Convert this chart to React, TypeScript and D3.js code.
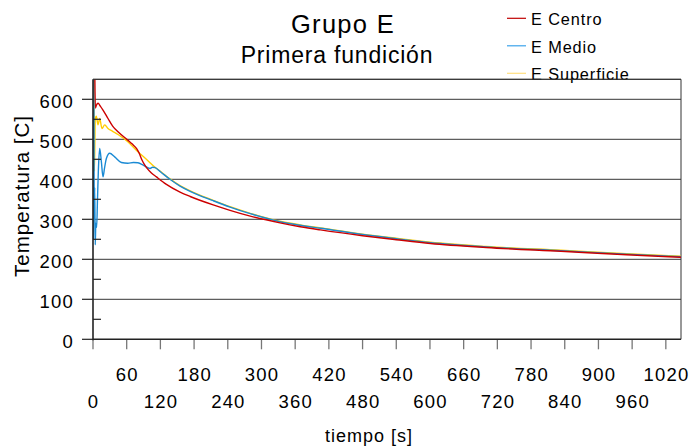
import React from "react";
import * as d3 from "d3";

const title = "Grupo E";
const subtitle = "Primera fundición";
const xTitle = "tiempo [s]";
const yTitle = "Temperatura [C]";
const seriesNames = ["E Centro", "E Medio", "E Superficie"];
const seriesColors = ["#cc0000", "#1a8ad4", "#ffcc00"];
const legendColors = ["#c00000", "#3aa2ea", "#ffdf80"];

const xTicks = d3.range(0, 1021, 60);
const yTicks = [0, 100, 200, 300, 400, 500, 600];
const yMinorTicks = [50, 150, 250, 350, 450, 550];

const centroT = [3, 4.2, 6, 9, 13, 17.8, 26.7, 35, 44.5, 62, 70, 78, 82, 87, 92, 96, 104, 113, 130, 155, 173, 214, 244, 280, 333, 369, 405, 480, 540, 601, 700, 833, 950, 1047];
const centroV = [700, 578, 585, 590, 583, 573, 552, 533, 519, 498, 488, 476, 466, 449, 436, 428, 416, 406, 388, 368, 357, 336, 322.5, 308, 291, 281.5, 273.5, 259, 249, 239.5, 229.5, 220, 211.5, 205];

const medioT = [0.8, 1.5, 2.2, 3, 4, 5, 6.5, 8, 9.5, 11.9, 14.9, 17.8, 20.5, 23.8, 29.7, 38.6, 50.5, 62, 72, 80, 90, 101.6, 106, 110.5, 120, 137, 155, 173, 214, 244, 280, 333, 369, 405, 480, 540, 601, 700, 833, 950, 1047];
const medioV = [250, 700, 300, 380, 236, 290, 280, 350, 420, 477, 444, 406, 428, 452, 465, 456, 442, 440, 442, 441.5, 435, 427, 430, 429, 419, 400, 383, 370, 346.5, 330.5, 314, 294, 285, 277.5, 262, 251.5, 241.5, 231, 221.5, 213, 206.5];

const superficieT = [1.5, 2.5, 4, 5.9, 8.9, 11.9, 16, 20.8, 26.7, 35, 44.5, 62, 80, 95, 110.5, 120, 137, 155, 173, 214, 244, 280, 333, 369, 405, 480, 540, 601, 700, 833, 950, 1047];
const superficieV = [700, 420, 550, 558, 536, 552, 527, 536, 527, 520, 512, 494, 469, 450, 430, 420, 401, 384, 371, 347.5, 331.5, 315, 295, 286, 278.5, 263, 252.5, 242.5, 232, 222.5, 214, 207.5];

const FONT = "'Liberation Sans', Arial, sans-serif";

export default function App() {
  const W = 690, H = 447;
  const left = 93, right = 681, top = 79.3, bottom = 339.3;
  const x = d3.scaleLinear().domain([0, 1047]).range([left, right]);
  const y = d3.scaleLinear().domain([0, 650]).range([bottom, top]);

  const series = [
    { t: superficieT, v: superficieV, c: seriesColors[2] },
    { t: medioT, v: medioV, c: seriesColors[1] },
    { t: centroT, v: centroV, c: seriesColors[0] },
  ];
  const line = d3
    .line<[number, number]>()
    .x((d) => x(d[0]))
    .y((d) => y(d[1]))
    .curve(d3.curveMonotoneX);

  return (
    <svg width={W} height={H} style={{ position: "absolute", left: 0, top: 0, background: "#fff" }} fontFamily={FONT}>
      <defs>
        <clipPath id="plotClip">
          <rect x={left} y={top} width={right - left} height={bottom - top} />
        </clipPath>
      </defs>
      <rect x={0} y={0} width={W} height={H} fill="#fff" />
      {yTicks.filter((d) => d > 0).map((d) => (
        <line key={"g" + d} x1={left} x2={right} y1={y(d)} y2={y(d)} stroke="#5e5e5e" strokeWidth={1.2} />
      ))}
      <line x1={left} x2={right} y1={top} y2={top} stroke="#333" strokeWidth={1} />
      <line x1={right} x2={right} y1={top} y2={bottom} stroke="#333" strokeWidth={1} />
      <g clipPath="url(#plotClip)">
        {series.map((s, i) => (
          <path
            key={i}
            d={line(s.t.map((t, j) => [t, s.v[j]] as [number, number])) || ""}
            fill="none"
            stroke={s.c}
            strokeWidth={1.4}
            strokeLinejoin="round"
          />
        ))}
      </g>
      {xTicks.map((d) => (
        <line key={"xt" + d} x1={x(d)} x2={x(d)} y1={bottom} y2={bottom + 10} stroke="#777" strokeWidth={1.3} />
      ))}
      {yTicks.map((d) => (
        <line key={"yt" + d} x1={left - 11} x2={left} y1={y(d)} y2={y(d)} stroke="#222" strokeWidth={1.2} />
      ))}
      {yMinorTicks.map((d) => (
        <line key={"ym" + d} x1={left} x2={left + 8} y1={y(d)} y2={y(d)} stroke="#222" strokeWidth={1.2} />
      ))}
      <line x1={left} x2={left} y1={top} y2={bottom + 1} stroke="#222" strokeWidth={1.6} />
      <line x1={left} x2={right} y1={bottom} y2={bottom} stroke="#222" strokeWidth={1.6} />
      {yTicks.map((d) => (
        <text key={"yl" + d} x={74} y={y(d) + 9} textAnchor="end" fontSize={18.5} letterSpacing={1.2} fill="#000">
          {d}
        </text>
      ))}
      {xTicks.map((d, i) => (
        <text
          key={"xl" + d}
          x={x(d) + 0.6}
          y={i % 2 === 1 ? 380.7 : 408.3}
          textAnchor="middle"
          fontSize={18.5}
          letterSpacing={1.2}
          fill="#000"
        >
          {d}
        </text>
      ))}
      <text x={343} y={33.3} textAnchor="middle" fontSize={25.5} letterSpacing={1.3} fill="#000">
        {title}
      </text>
      <text x={337} y={63.3} textAnchor="middle" fontSize={23} letterSpacing={0.8} fill="#000">
        {subtitle}
      </text>
      <text x={369} y={441.7} textAnchor="middle" fontSize={18} letterSpacing={1} fill="#000">
        {xTitle}
      </text>
      <text transform="translate(28.5,196) rotate(-90)" textAnchor="middle" fontSize={20.5} letterSpacing={1} fill="#000">
        {yTitle}
      </text>
      {seriesNames.map((n, i) => {
        const ly = 18.3 + i * 27.5;
        return (
          <g key={n}>
            <line x1={507} x2={526} y1={ly} y2={ly} stroke={legendColors[i]} strokeWidth={1.2} />
            <text x={531} y={ly + 6.7} fontSize={16.3} letterSpacing={0.9} fill="#000">
              {n}
            </text>
          </g>
        );
      })}
      <line x1={left} x2={right} y1={top} y2={top} stroke="#333" strokeWidth={1} />
    </svg>
  );
}
